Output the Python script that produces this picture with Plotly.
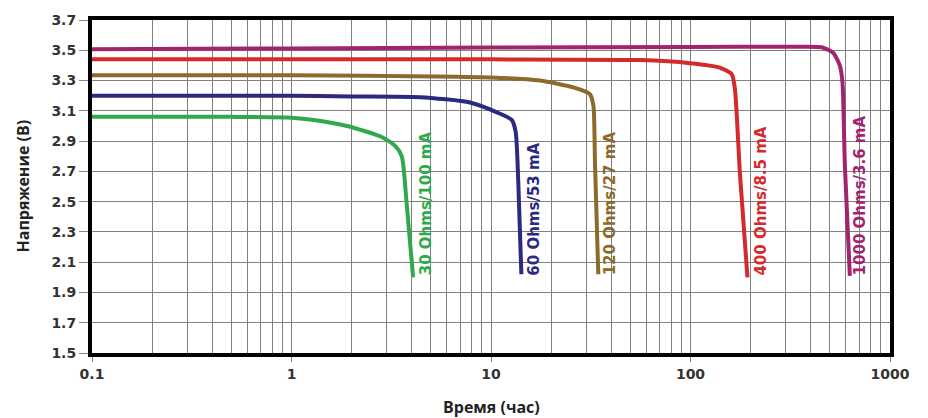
import math
import plotly.graph_objects as go

# ---- data ----
t_30 = [0.1, 0.5, 1.0, 1.3, 1.9, 2.8, 3.3, 3.57, 3.77, 4.07]
v_30 = [3.06, 3.06, 3.055, 3.04, 3.00, 2.93, 2.87, 2.80, 2.50, 2.00]

t_60 = [0.1, 1, 2, 4.4, 7.85, 10.7, 12.7, 13.3, 13.7, 14.2]
v_60 = [3.20, 3.20, 3.195, 3.19, 3.155, 3.09, 3.04, 2.96, 2.63, 2.02]

t_120 = [0.1, 1, 10, 17.6, 25.9, 31.3, 32.6, 33.2, 34.5]
v_120 = [3.335, 3.335, 3.32, 3.30, 3.255, 3.21, 3.135, 2.76, 2.02]

t_400 = [0.1, 10, 55.8, 99.4, 140, 161, 167, 177, 193]
v_400 = [3.44, 3.44, 3.435, 3.415, 3.386, 3.342, 3.244, 2.68, 2.00]

t_1000 = [0.1, 1, 10, 100, 315, 454, 519, 561, 578, 594, 629]
v_1000 = [3.507, 3.512, 3.518, 3.522, 3.523, 3.52, 3.484, 3.397, 3.287, 2.74, 2.01]

labels = ["30 Ohms/100 mA", "60 Ohms/53 mA", "120 Ohms/27 mA", "400 Ohms/8.5 mA", "1000 Ohms/3.6 mA"]
label_x = [4.72, 16.4, 39.5, 225, 708]
label_y = 2.0
colors = ["#2EAA4A", "#2B2A80", "#8C6A2A", "#D42A2C", "#A2246F"]

x_ticks = [0.1, 1, 10, 100, 1000]
x_tick_text = ["0.1", "1", "10", "100", "1000"]
y_ticks = [1.5, 1.7, 1.9, 2.1, 2.3, 2.5, 2.7, 2.9, 3.1, 3.3, 3.5, 3.7]
minor_mult = [2, 3, 4, 5, 6, 7, 8, 9]

series = [(t_30, v_30), (t_60, v_60), (t_120, v_120), (t_400, v_400), (t_1000, v_1000)]

fig = go.Figure()
for (t, v), c in zip(series, colors):
    fig.add_trace(go.Scatter(x=t, y=v, mode="lines",
                             line=dict(color=c, width=4, shape="spline", smoothing=0.6),
                             hoverinfo="skip", showlegend=False))

for txt, lx, c in zip(labels, label_x, colors):
    fig.add_annotation(x=math.log10(lx), y=label_y, xref="x", yref="y", text=txt, showarrow=False,
                       textangle=-90, xanchor="center", yanchor="bottom",
                       font=dict(family="DejaVu Sans", size=15, color=c, weight="bold"))

minor_vals = [m * d for d in [0.1, 1, 10, 100] for m in minor_mult]

fig.update_xaxes(type="log", range=[-1, 3], tickmode="array", tickvals=x_ticks, ticktext=x_tick_text,
                 showgrid=True, gridcolor="#7f7f7f", gridwidth=1,
                 minor=dict(tickmode="array", tickvals=minor_vals, showgrid=True,
                            gridcolor="#7f7f7f", gridwidth=1, ticks=""),
                 showline=True, linecolor="black", linewidth=4, mirror=True,
                 ticks="outside", ticklen=5, tickcolor="#888", zeroline=False,
                 tickfont=dict(family="DejaVu Sans", size=14, color="#333", weight="bold"))
fig.update_yaxes(range=[1.5, 3.7], tickmode="array", tickvals=y_ticks,
                 ticktext=[f"{v:.1f}" for v in y_ticks],
                 showgrid=True, gridcolor="#7f7f7f", gridwidth=1,
                 showline=True, linecolor="black", linewidth=4, mirror=True,
                 ticks="outside", ticklen=9, tickcolor="#888", zeroline=False,
                 tickfont=dict(family="DejaVu Sans", size=14, color="#333", weight="bold"))

fig.add_annotation(xref="paper", yref="paper", x=0, y=0.5, xshift=-70, text="Напряжение (В)",
                   textangle=-90, showarrow=False, xanchor="center", yanchor="middle",
                   font=dict(family="Open Sans", size=16, color="#222", weight="bold"))
fig.add_annotation(xref="paper", yref="paper", x=0.5, y=0, yshift=-54, text="Время (час)",
                   showarrow=False, xanchor="center", yanchor="middle",
                   font=dict(family="Open Sans", size=16, color="#222", weight="bold"))

fig.update_layout(width=928, height=418, margin=dict(l=92, r=38, t=17, b=65),
                  paper_bgcolor="white", plot_bgcolor="white")

fig.write_html("out.html", config={"displayModeBar": False},
               post_script="document.body.style.margin='0';document.body.style.padding='0';")
